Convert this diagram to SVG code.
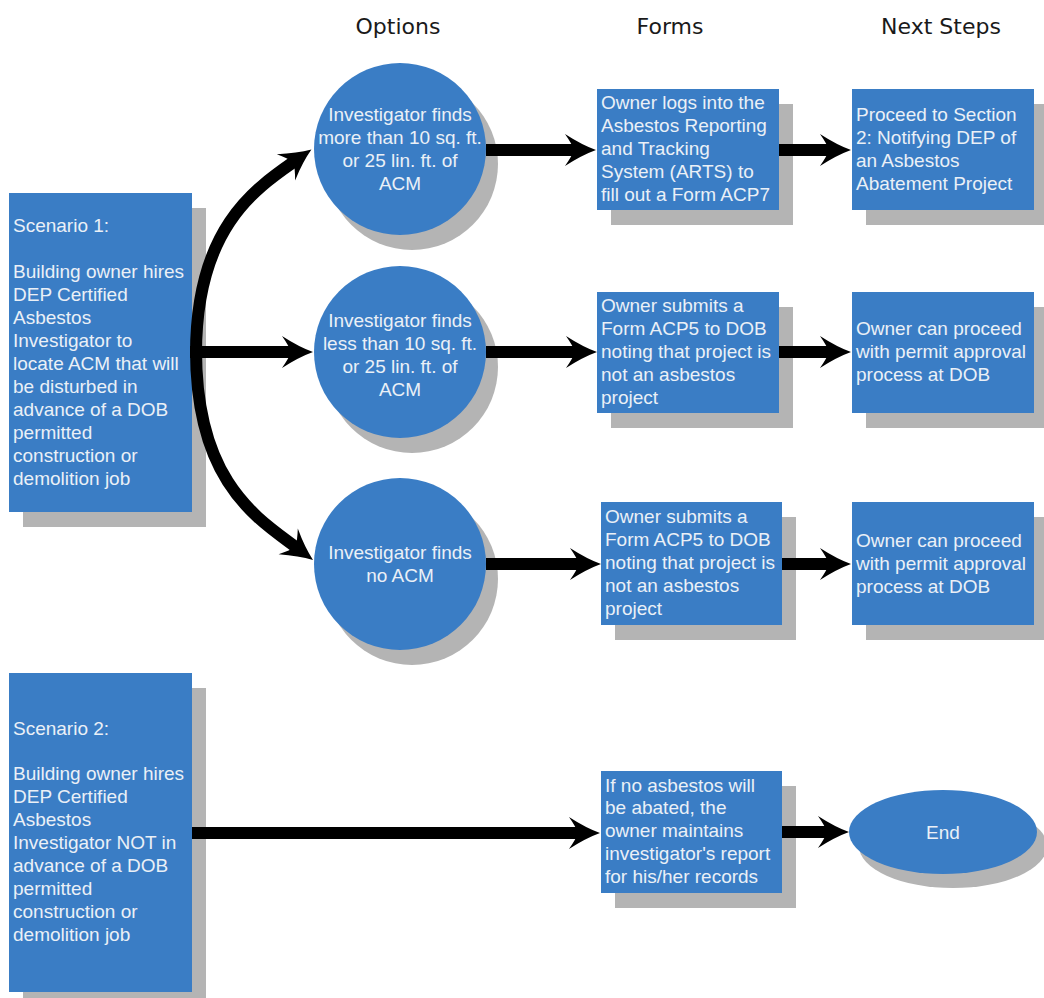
<svg xmlns="http://www.w3.org/2000/svg" width="1044" height="998" viewBox="0 0 1044 998">
<defs>
<style>
.node{fill:#3a7dc5}
.shadow{fill:#b4b4b4}
.t{font-family:"Liberation Sans",Arial,sans-serif;font-size:19px;fill:#eaf0f7}
.tc{font-family:"Liberation Sans",Arial,sans-serif;font-size:19px;fill:#eaf0f7;text-anchor:middle}
.hdr{font-family:"DejaVu Sans",Verdana,sans-serif;font-size:22px;fill:#1a1a1a;text-anchor:middle}
.conn{fill:none;stroke:#000;stroke-width:12;marker-end:url(#ah)}
</style>
<marker id="ah" markerUnits="userSpaceOnUse" markerWidth="40" markerHeight="40" viewBox="-34 -20 40 40" refX="-20" refY="0" orient="auto">
<path d="M0,0 Q-14,-5 -31,-16 Q-24,-6 -22,0 Q-24,6 -31,16 Q-14,5 0,0 Z" fill="#000"/>
</marker>
</defs>
<rect width="1044" height="998" fill="#ffffff"/>

<g id="headers">
<text class="hdr" x="398" y="34">Options</text>
<text class="hdr" x="670" y="34">Forms</text>
<text class="hdr" x="941" y="34">Next Steps</text>
</g>

<g id="scenario1">
<rect class="shadow" x="23" y="208" width="183" height="319"/>
<rect class="node" x="9" y="193" width="183" height="319"/>
<text class="t" x="13" y="232">Scenario 1:</text>
<text class="t" x="13" y="278">Building owner hires</text>
<text class="t" x="13" y="301">DEP Certified</text>
<text class="t" x="13" y="324">Asbestos</text>
<text class="t" x="13" y="347">Investigator to</text>
<text class="t" x="13" y="370">locate ACM that will</text>
<text class="t" x="13" y="393">be disturbed in</text>
<text class="t" x="13" y="416">advance of a DOB</text>
<text class="t" x="13" y="439">permitted</text>
<text class="t" x="13" y="462">construction or</text>
<text class="t" x="13" y="485">demolition job</text>
</g>

<g id="scenario2">
<rect class="shadow" x="23" y="688" width="183" height="319"/>
<rect class="node" x="9" y="673" width="183" height="319"/>
<text class="t" x="13" y="735">Scenario 2:</text>
<text class="t" x="13" y="780">Building owner hires</text>
<text class="t" x="13" y="803">DEP Certified</text>
<text class="t" x="13" y="826">Asbestos</text>
<text class="t" x="13" y="849">Investigator NOT in</text>
<text class="t" x="13" y="872">advance of a DOB</text>
<text class="t" x="13" y="895">permitted</text>
<text class="t" x="13" y="918">construction or</text>
<text class="t" x="13" y="941">demolition job</text>
</g>

<g id="option1">
<circle class="shadow" cx="412" cy="164" r="86"/>
<circle class="node" cx="400" cy="149" r="86"/>
<text class="tc" x="400" y="121">Investigator finds</text>
<text class="tc" x="400" y="144">more than 10 sq. ft.</text>
<text class="tc" x="400" y="167">or 25 lin. ft. of</text>
<text class="tc" x="400" y="190">ACM</text>
</g>

<g id="option2">
<circle class="shadow" cx="412" cy="367" r="86"/>
<circle class="node" cx="400" cy="352" r="86"/>
<text class="tc" x="400" y="327">Investigator finds</text>
<text class="tc" x="400" y="350">less than 10 sq. ft.</text>
<text class="tc" x="400" y="373">or 25 lin. ft. of</text>
<text class="tc" x="400" y="396">ACM</text>
</g>

<g id="option3">
<circle class="shadow" cx="412" cy="579" r="86"/>
<circle class="node" cx="400" cy="564" r="86"/>
<text class="tc" x="400" y="559">Investigator finds</text>
<text class="tc" x="400" y="582">no ACM</text>
</g>

<g id="form1">
<rect class="shadow" x="611" y="104" width="182" height="121"/>
<rect class="node" x="597" y="89" width="182" height="121"/>
<text class="t" x="601" y="109">Owner logs into the</text>
<text class="t" x="601" y="132">Asbestos Reporting</text>
<text class="t" x="601" y="155">and Tracking</text>
<text class="t" x="601" y="178">System (ARTS) to</text>
<text class="t" x="601" y="201">fill out a Form ACP7</text>
</g>

<g id="next1">
<rect class="shadow" x="866" y="104" width="182" height="121"/>
<rect class="node" x="852" y="89" width="182" height="121"/>
<text class="t" x="856" y="121">Proceed to Section</text>
<text class="t" x="856" y="144">2: Notifying DEP of</text>
<text class="t" x="856" y="167">an Asbestos</text>
<text class="t" x="856" y="190">Abatement Project</text>
</g>

<g id="form2">
<rect class="shadow" x="611" y="307" width="182" height="121"/>
<rect class="node" x="597" y="292" width="182" height="121"/>
<text class="t" x="601" y="312">Owner submits a</text>
<text class="t" x="601" y="335">Form ACP5 to DOB</text>
<text class="t" x="601" y="358">noting that project is</text>
<text class="t" x="601" y="381">not an asbestos</text>
<text class="t" x="601" y="404">project</text>
</g>

<g id="next2">
<rect class="shadow" x="866" y="307" width="182" height="121"/>
<rect class="node" x="852" y="292" width="182" height="121"/>
<text class="t" x="856" y="335">Owner can proceed</text>
<text class="t" x="856" y="358">with permit approval</text>
<text class="t" x="856" y="381">process at DOB</text>
</g>

<g id="form3">
<rect class="shadow" x="615" y="517" width="181" height="123"/>
<rect class="node" x="601" y="502" width="181" height="123"/>
<text class="t" x="605" y="523">Owner submits a</text>
<text class="t" x="605" y="546">Form ACP5 to DOB</text>
<text class="t" x="605" y="569">noting that project is</text>
<text class="t" x="605" y="592">not an asbestos</text>
<text class="t" x="605" y="615">project</text>
</g>

<g id="next3">
<rect class="shadow" x="866" y="517" width="182" height="123"/>
<rect class="node" x="852" y="502" width="182" height="123"/>
<text class="t" x="856" y="547">Owner can proceed</text>
<text class="t" x="856" y="570">with permit approval</text>
<text class="t" x="856" y="593">process at DOB</text>
</g>

<g id="form4">
<rect class="shadow" x="615" y="786" width="181" height="122"/>
<rect class="node" x="601" y="771" width="181" height="122"/>
<text class="t" x="605" y="792">If no asbestos will</text>
<text class="t" x="605" y="814">be abated, the</text>
<text class="t" x="605" y="837">owner maintains</text>
<text class="t" x="605" y="860">investigator's report</text>
<text class="t" x="605" y="883">for his/her records</text>
</g>

<g id="end">
<ellipse class="shadow" cx="953" cy="846" rx="94" ry="42"/>
<ellipse class="node" cx="943" cy="832" rx="94" ry="42"/>
<text class="tc" x="943" y="839">End</text>
</g>

<g id="connectors">
<path class="conn" d="M196,354 C196,229 254,189.5 295,161"/>
<path class="conn" d="M196,350 C196,482 257,518 297,548"/>
<path class="conn" d="M190,352 H293"/>
<path class="conn" d="M486,150 H576"/>
<path class="conn" d="M779,150 H831"/>
<path class="conn" d="M486,352 H577"/>
<path class="conn" d="M779,352 H831"/>
<path class="conn" d="M486,564 H581"/>
<path class="conn" d="M782,564 H831"/>
<path class="conn" d="M192,833 H580"/>
<path class="conn" d="M782,832 H829"/>
</g>
</svg>
